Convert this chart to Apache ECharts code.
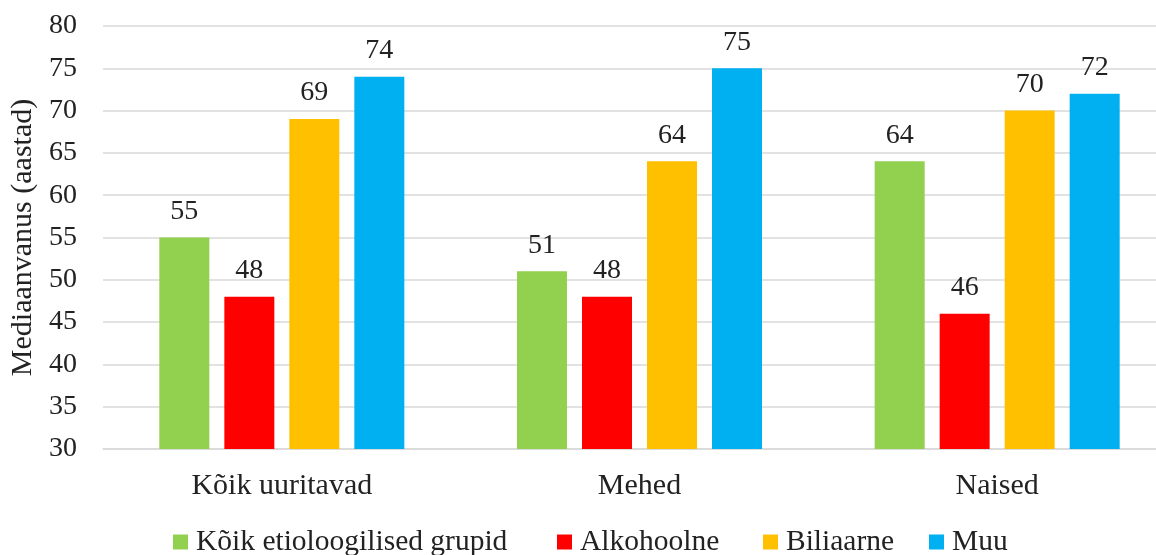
<!DOCTYPE html>
<html>
<head>
<meta charset="utf-8">
<script src="https://cdn.jsdelivr.net/npm/echarts@6/dist/echarts.min.js"></script>
<style>
  html, body { margin: 0; padding: 0; background: #fff; overflow: hidden; }
  #chart { width: 1176px; height: 555px; }
</style>
</head>
<body>
<div id="chart"></div>
<script>
// Median age by etiology group
const categories = ['Kõik uuritavad', 'Mehed', 'Naised'];
const seriesNames = ['Kõik etioloogilised grupid', 'Alkohoolne', 'Biliaarne', 'Muu'];
const allGroups = [55, 51, 64];
const alcoholic = [48, 48, 46];
const biliary = [69, 64, 70];
const other = [74, 75, 72];
const colors = ['#92D050', '#FF0000', '#FFC000', '#00B0F0'];
const legendLeft = [173, 557, 763, 929];

const FONT = '"Liberation Serif", "Times New Roman", serif';
const values = [allGroups, alcoholic, biliary, other];

const chart = echarts.init(document.getElementById('chart'));
chart.setOption({
  animation: false,
  textStyle: { fontFamily: FONT },
  grid: { left: 103, top: 26, right: 0, height: 423, containLabel: false },
  // one legend block per series, placed along the bottom row
  legend: seriesNames.map((name, i) => ({
    top: 527,
    left: legendLeft[i],
    padding: 0,
    itemWidth: 15,
    itemHeight: 15,
    icon: 'rect',
    selectedMode: false,
    textStyle: { fontFamily: FONT, fontSize: 29.5, color: '#222', padding: [0, 0, 0, 3] },
    data: [name]
  })),
  xAxis: {
    type: 'category',
    data: categories,
    axisLine: { show: true, lineStyle: { color: '#d9d9d9', width: 1.5 } },
    axisTick: { show: false },
    axisLabel: { fontFamily: FONT, fontSize: 30, color: '#222', margin: 22 }
  },
  yAxis: {
    type: 'value',
    min: 30,
    max: 80,
    interval: 5,
    name: 'Mediaanvanus (aastad)',
    nameLocation: 'middle',
    nameGap: 64,
    nameTextStyle: { fontFamily: FONT, fontSize: 30, color: '#222' },
    axisLine: { show: false },
    axisTick: { show: false },
    axisLabel: { fontFamily: FONT, fontSize: 28, color: '#222', margin: 26 },
    splitLine: { lineStyle: { color: '#d9d9d9', width: 1.5 } }
  },
  series: seriesNames.map((name, i) => ({
    name: name,
    type: 'bar',
    data: values[i],
    barWidth: 50,
    barGap: '30%',
    itemStyle: { color: colors[i] },
    label: {
      show: true,
      position: 'top',
      distance: 12,
      fontFamily: FONT,
      fontSize: 28,
      color: '#222'
    }
  }))
});
</script>
</body>
</html>
